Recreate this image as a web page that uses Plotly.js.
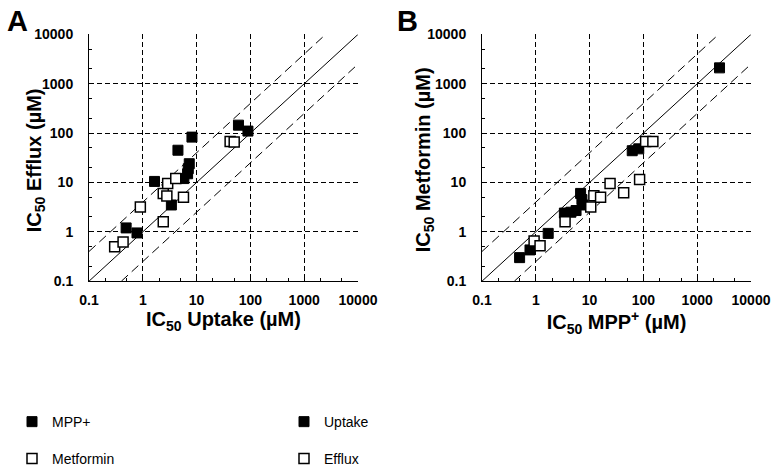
<!DOCTYPE html>
<html>
<head>
<meta charset="utf-8">
<script src="https://cdn.plot.ly/plotly-3.0.1.min.js"></script>
<style>html,body{margin:0;padding:0;background:#fff;}#chart{width:774px;height:475px;}</style>
</head>
<body>
<div id="chart"></div>
<script>
// Panel A: IC50 Efflux vs IC50 Uptake
const mppUptake   = [0.49, 0.78, 1.65, 3.4, 4.5, 5.8, 6.8, 7.0, 7.3, 8.2, 60, 90];
const mppEfflux   = [1.2, 0.95, 10.5, 3.5, 45, 12, 15, 19, 24, 83, 145, 110];
const metUptake   = [0.3, 0.43, 0.9, 2.4, 2.4, 2.8, 2.9, 4.1, 5.7, 42, 50];
const metEfflux   = [0.5, 0.62, 3.2, 1.6, 6.0, 5.3, 9.5, 12, 5.0, 68, 66];
// Panel B: IC50 Metformin vs IC50 MPP+
const upMPP = [0.5, 0.78, 1.7, 3.4, 4.5, 5.6, 6.8, 7.2, 7.5, 62, 82, 2600];
const upMet = [0.3, 0.43, 0.93, 2.4, 2.5, 2.7, 6.0, 4.5, 3.5, 44, 48, 2100];
const efMPP = [0.93, 1.2, 3.5, 10.5, 12, 16, 24, 43, 85, 110, 150];
const efMet = [0.65, 0.52, 1.6, 3.2, 5.4, 5.0, 9.5, 6.2, 11.5, 68, 68];
// Guide lines: identity and 4-fold bands
const idX = [0.1, 10000], idY = [0.1, 10000];
const upX = [0.1, 2500],  upY = [0.4, 10000];
const loX = [0.4, 10000], loY = [0.1, 2500];
// Tick labels
const tickVals = [0.1, 1, 10, 100, 1000, 10000];
const tickText = ['0.1', '1', '10', '100', '1000', '10000'];
const legendNames = ['MPP+', 'Metformin', 'Uptake', 'Efflux'];
const yTitles = ['IC<sub>50</sub> Efflux (µM)', 'IC<sub>50</sub> Metformin (µM)'];
const xTitles = ['IC<sub>50</sub> Uptake (µM)', 'IC<sub>50</sub> MPP<sup>+</sup> (µM)'];

const FONT = 'Liberation Sans, Arial, sans-serif';

function guide(x, y, xa, ya, dash) {
  return {x: x, y: y, xaxis: xa, yaxis: ya, mode: 'lines', showlegend: false, hoverinfo: 'skip',
          line: {color: 'black', width: 1, dash: dash}};
}
const filled = {symbol: 'square', size: 10, color: 'black', line: {color: 'black', width: 1}};
const open = {symbol: 'square', size: 10, color: 'white', line: {color: 'black', width: 1.5}};
const DASH = '9px,5px';

const traces = [
  guide(idX, idY, 'x', 'y', 'solid'), guide(upX, upY, 'x', 'y', DASH), guide(loX, loY, 'x', 'y', DASH),
  guide(idX, idY, 'x2', 'y2', 'solid'), guide(upX, upY, 'x2', 'y2', DASH), guide(loX, loY, 'x2', 'y2', DASH),
  {x: mppUptake, y: mppEfflux, xaxis: 'x', yaxis: 'y', mode: 'markers', name: legendNames[0], marker: filled, legend: 'legend'},
  {x: metUptake, y: metEfflux, xaxis: 'x', yaxis: 'y', mode: 'markers', name: legendNames[1], marker: open, legend: 'legend2'},
  {x: upMPP, y: upMet, xaxis: 'x2', yaxis: 'y2', mode: 'markers', name: legendNames[2], marker: filled, legend: 'legend3'},
  {x: efMPP, y: efMet, xaxis: 'x2', yaxis: 'y2', mode: 'markers', name: legendNames[3], marker: open, legend: 'legend4'}
];

function axis(domain, anchor, title, isX) {
  const a = {
    type: 'log', range: [-1, 4], domain: domain, anchor: anchor,
    tickmode: 'array', tickvals: tickVals, ticktext: tickText,
    ticks: 'inside', ticklen: 5, tickcolor: 'black', tickwidth: 1,
    minor: {ticks: 'inside', ticklen: 3, tickcolor: 'black', tickwidth: 1, showgrid: false},
    showline: true, linecolor: 'black', linewidth: 1, mirror: false,
    showgrid: true, gridcolor: 'black', gridwidth: 1, griddash: '5px,3px',
    zeroline: false, automargin: false,
    ticklabelstandoff: isX ? 6 : 12,
    tickfont: {family: FONT, size: 14, color: 'black', weight: 'bold'}
  };
  if (title) a.title = {text: title, font: {family: FONT, size: 20, color: 'black', weight: 'bold'}, standoff: 5};
  return a;
}
const yDom = [(475 - 286) / 475, (475 - 35) / 475];
function leg(x, ypx) {
  return {x: x, y: (475 - ypx) / 475, xanchor: 'left', yanchor: 'top', bgcolor: 'rgba(0,0,0,0)', itemwidth: 30,
          borderwidth: 0, font: {family: FONT, size: 14, color: 'black'}};
}
function label(text, xpx, ypx, size, angle) {
  return {text: text, xref: 'paper', yref: 'paper', x: xpx / 774, y: (475 - ypx) / 475, showarrow: false,
          textangle: angle, xanchor: 'center', yanchor: 'middle',
          font: {family: FONT, size: size, color: 'black', weight: 'bold'}};
}
const layout = {
  width: 774, height: 475, autosize: false,
  margin: {l: 0, r: 0, t: 0, b: 0},
  paper_bgcolor: 'white', plot_bgcolor: 'white',
  showlegend: true,
  xaxis: axis([89 / 774, 358 / 774], 'y', xTitles[0], true),
  yaxis: axis(yDom, 'x', null, false),
  xaxis2: axis([482 / 774, 751 / 774], 'y2', xTitles[1], true),
  yaxis2: axis(yDom, 'x2', null, false),
  legend: leg(12 / 774, 413),
  legend2: leg(12 / 774, 451),
  legend3: leg(284 / 774, 413),
  legend4: leg(284 / 774, 451),
  annotations: [
    label('A', 17.5, 21, 29, 0),
    label('B', 407, 21, 29, 0),
    label(yTitles[0], 35, 163, 20, -90),
    label(yTitles[1], 424, 163, 20, -90)
  ]
};
Plotly.newPlot('chart', traces, layout, {staticPlot: true, displayModeBar: false});
</script>
</body>
</html>
